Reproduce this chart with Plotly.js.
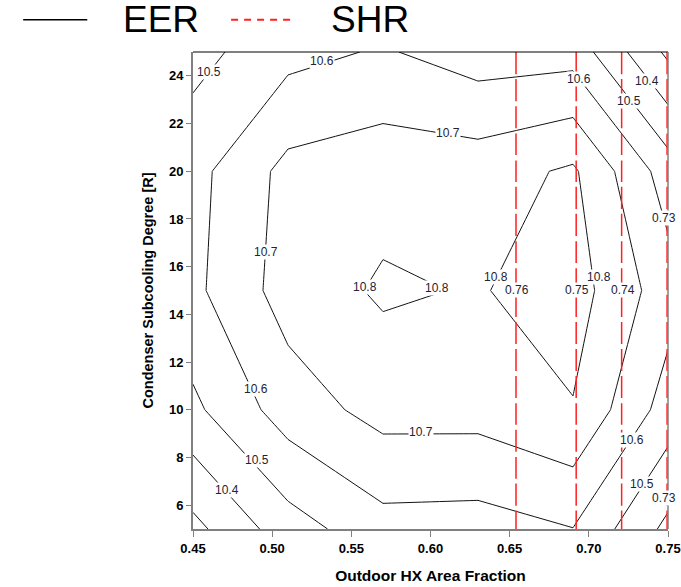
<!DOCTYPE html>
<html>
<head>
<meta charset="utf-8">
<script src="https://cdn.plot.ly/plotly-3.0.1.min.js"></script>
<style>
  html, body { margin: 0; padding: 0; background: #ffffff; }
  #chart { width: 681px; height: 587px; }
</style>
</head>
<body>
<div id="chart"></div>
<script>
// Grid axes
const areaFraction = [0.45, 0.51, 0.57, 0.63, 0.69, 0.75];
const subcooling = [5, 10, 15, 20, 25];

// EER values on the grid (rows follow subcooling, columns follow areaFraction)
const eerRow5  = [10.271, 10.455, 10.563, 10.557, 10.598, 10.375];
const eerRow10 = [10.479, 10.648, 10.735, 10.736, 10.794, 10.556];
const eerRow15 = [10.577, 10.744, 10.814, 10.793, 10.846, 10.644];
const eerRow20 = [10.567, 10.730, 10.760, 10.755, 10.815, 10.552];
const eerRow25 = [10.465, 10.569, 10.610, 10.550, 10.560, 10.280];

// SHR values per column of areaFraction (nearly independent of subcooling)
const shrByArea = [0.769, 0.768, 0.767, 0.7662, 0.7507, 0.7298];

// Contour levels
const eerLevels = [10.3, 10.4, 10.5, 10.6, 10.7, 10.8];
const shrLevels = [0.73, 0.74, 0.75, 0.76];

// Tick labels
const xTicks = [0.45, 0.50, 0.55, 0.60, 0.65, 0.70, 0.75];
const yTicks = [6, 8, 10, 12, 14, 16, 18, 20, 22, 24];

// Where the contour labels sit (layout only): level value, then position in axis units
const eerLabelSpots = [
  [10.5, 0.4601, 24.16], [10.6, 0.5316, 24.62], [10.7, 0.6108, 21.60],
  [10.6, 0.6937, 23.87], [10.5, 0.7253, 22.95], [10.4, 0.7367, 23.80],
  [10.7, 0.4962, 16.60], [10.8, 0.5589, 15.15], [10.8, 0.6044, 15.10],
  [10.8, 0.6411, 15.57], [10.8, 0.7063, 15.57], [10.6, 0.4899, 10.85],
  [10.5, 0.4905, 7.90],  [10.4, 0.4715, 6.64],  [10.7, 0.5937, 9.07],
  [10.6, 0.7272, 8.73],  [10.5, 0.7335, 6.90]
];
const shrLabelSpots = [
  [0.76, 0.6544, 15.02], [0.75, 0.6924, 15.02], [0.74, 0.7215, 15.02],
  [0.73, 0.7474, 18.05], [0.73, 0.7474, 6.30]
];

const eerZ = [eerRow5, eerRow10, eerRow15, eerRow20, eerRow25];
const shrZ = subcooling.map(() => shrByArea.slice());

const FONT = 'Arial, Liberation Sans, sans-serif';

const traces = [
  {
    type: 'contour',
    name: 'EER',
    x: areaFraction, y: subcooling, z: eerZ,
    contours: { coloring: 'none', start: eerLevels[0], end: eerLevels[eerLevels.length - 1],
                size: 0.1, showlabels: false },
    line: { color: '#111111', width: 1, smoothing: 0 },
    showscale: false, hoverinfo: 'skip'
  },
  {
    type: 'contour',
    name: 'SHR',
    x: areaFraction, y: subcooling, z: shrZ,
    contours: { coloring: 'none', start: shrLevels[0], end: shrLevels[shrLevels.length - 1],
                size: 0.01, showlabels: false },
    line: { color: '#ff2020', width: 1.5, dash: '22px,5px', smoothing: 0 },
    showscale: false, hoverinfo: 'skip'
  }
];

const labelAnn = (spot, digits) => ({
  xref: 'x', yref: 'y', x: spot[1], y: spot[2], showarrow: false,
  text: spot[0].toFixed(digits), bgcolor: '#ffffff', borderpad: 0,
  font: { family: FONT, size: 12, color: '#222233' }
});

const annotations = [
  ...eerLabelSpots.map(s => labelAnn(s, 1)),
  ...shrLabelSpots.map(s => labelAnn(s, 2)),
  { xref: 'paper', yref: 'paper', x: -0.1515, y: 1.0675, xanchor: 'left', yanchor: 'middle', showarrow: false,
    text: 'EER', font: { family: FONT, size: 37, color: '#000' } },
  { xref: 'paper', yref: 'paper', x: 0.2869, y: 1.0675, xanchor: 'left', yanchor: 'middle', showarrow: false,
    text: 'SHR', font: { family: FONT, size: 37, color: '#000' } }
];

const axisFont = { family: FONT, size: 13, color: '#000000', weight: 'bold' };

const layout = {
  width: 681, height: 587,
  margin: { l: 193, r: 13, t: 52, b: 58 },
  paper_bgcolor: '#ffffff', plot_bgcolor: '#ffffff',
  showlegend: false,
  xaxis: {
    range: [0.45, 0.75], tickvals: xTicks, tickformat: '.2f',
    ticks: 'outside', ticklen: 6, tickwidth: 1, tickcolor: '#808080',
    showline: true, linecolor: '#808080', linewidth: 2,
    showgrid: false, zeroline: false, tickfont: axisFont,
    title: { text: 'Outdoor HX Area Fraction', font: { family: FONT, size: 15.5, color: '#000', weight: 'bold' }, standoff: 16 }
  },
  yaxis: {
    range: [5, 25], tickvals: yTicks,
    ticks: 'outside', ticklen: 5, tickwidth: 1, tickcolor: '#808080',
    showline: true, linecolor: '#808080', linewidth: 2,
    showgrid: false, zeroline: false, tickfont: axisFont,
    title: { text: 'Condenser Subcooling Degree [R]', font: { family: FONT, size: 14.5, color: '#000', weight: 'bold' }, standoff: 12 }
  },
  shapes: [
    { type: 'line', xref: 'paper', yref: 'paper', x0: 0, x1: 1, y0: 1, y1: 1, line: { color: '#000000', width: 1 } },
    { type: 'line', xref: 'paper', yref: 'paper', x0: 1, x1: 1, y0: 0, y1: 1, line: { color: '#808080', width: 1.5 } },
    // legend symbols
    { type: 'line', xref: 'paper', yref: 'paper', x0: -0.3575, x1: -0.2226, y0: 1.0675, y1: 1.0675, line: { color: '#000000', width: 1.5 } },
    { type: 'line', xref: 'paper', yref: 'paper', x0: 0.0802, x1: 0.2152, y0: 1.0675, y1: 1.0675, line: { color: '#ff2020', width: 2, dash: '7px,6px' } }
  ],
  annotations: annotations
};

Plotly.newPlot('chart', traces, layout, { staticPlot: true, displayModeBar: false });
</script>
</body>
</html>
